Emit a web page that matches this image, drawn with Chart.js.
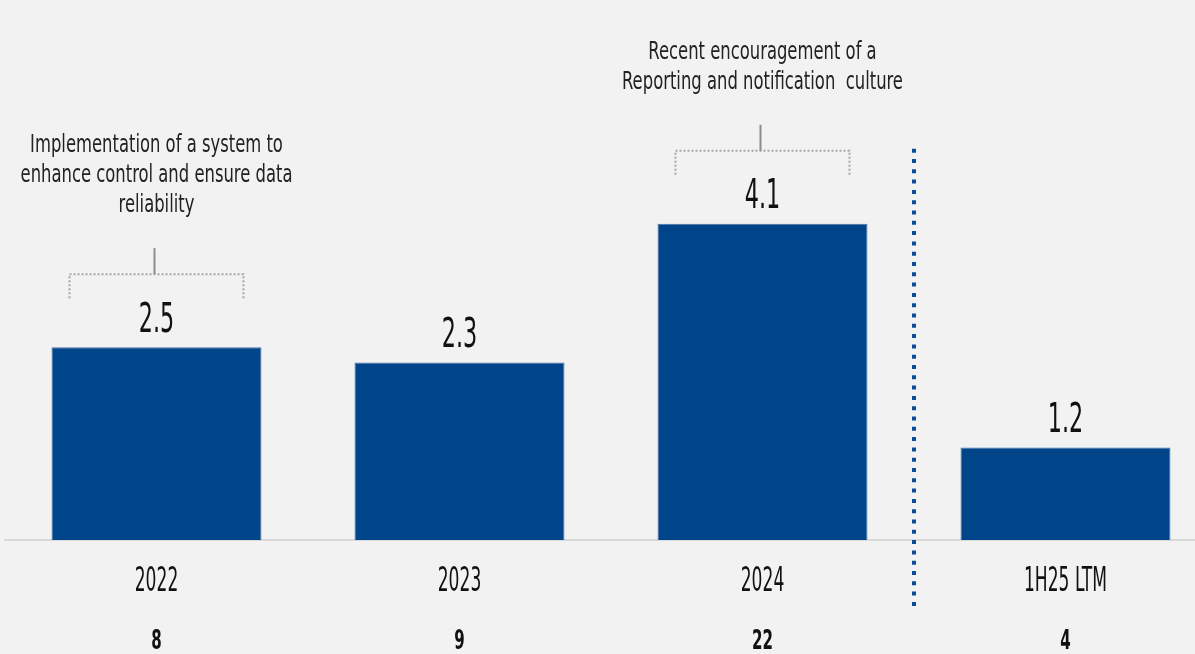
<!DOCTYPE html>
<html>
<head>
<meta charset="utf-8">
<script src="https://cdn.jsdelivr.net/npm/chart.js@4"></script>
<style>
  html, body { margin: 0; padding: 0; background: #F2F2F2; overflow: hidden; }
  canvas { display: block; }
</style>
</head>
<body>
<canvas id="reportsChart" width="1217" height="654"></canvas>
<script>
// Reports per period
const categories = ['2022', '2023', '2024', '1H25 LTM'];
const values = [2.5, 2.3, 4.1, 1.2];
const counts = ['8', '9', '22', '4'];
const notes = [
    ['Implementation of a system to', 'enhance control and ensure data', 'reliability'],
    null,
    ['Recent encouragement of a', 'Reporting and notification  culture'],
    null
];

const FONT = "'DejaVu Sans Condensed', 'DejaVu Sans', sans-serif";
const BLUE = '#00448A';

// tall narrow lettering: condensed face squeezed horizontally
function narrowText(ctx, text, x, y, size, sx, color, weight) {
    ctx.save();
    ctx.font = (weight || 'normal') + ' ' + size + 'px ' + FONT;
    ctx.fillStyle = color;
    ctx.textAlign = 'center';
    ctx.textBaseline = 'middle';
    ctx.translate(x, y);
    ctx.scale(sx, 1);
    ctx.fillText(text, 0, 0);
    ctx.restore();
}

const overlay = {
    id: 'overlay',
    afterDatasetsDraw(chart) {
        const ctx = chart.ctx;
        const meta = chart.getDatasetMeta(0);
        const xScale = chart.scales.x;
        const base = chart.chartArea.bottom;

        // period labels and report counts under the axis
        categories.forEach((cat, i) => {
            const x = xScale.getPixelForValue(i);
            narrowText(ctx, cat, x, base + 42, 34, 0.56, '#111111');
            narrowText(ctx, counts[i], x, base + 102, 27, 0.62, '#111111', 'bold');
        });

        meta.data.forEach((bar, i) => {
            narrowText(ctx, values[i].toFixed(1), bar.x, bar.y - 26, 40, 0.62, '#111111');

            if (!notes[i]) return;
            const half = bar.width / 2 - 18;
            const yLine = bar.y - 73;
            const yEnd = bar.y - 49;
            const yTick = bar.y - 99;

            // dotted bracket
            ctx.save();
            ctx.strokeStyle = '#A6A6A6';
            ctx.lineWidth = 2;
            ctx.setLineDash([2, 2]);
            ctx.beginPath();
            ctx.moveTo(bar.x - half, yEnd);
            ctx.lineTo(bar.x - half, yLine);
            ctx.lineTo(bar.x + half, yLine);
            ctx.lineTo(bar.x + half, yEnd);
            ctx.stroke();
            ctx.setLineDash([]);
            ctx.strokeStyle = '#8C8C8C';
            ctx.beginPath();
            ctx.moveTo(bar.x - 2, yTick);
            ctx.lineTo(bar.x - 2, yLine);
            ctx.stroke();
            ctx.restore();

            const lines = notes[i];
            lines.forEach((line, k) => {
                const y = yTick - 42 - (lines.length - 1 - k) * 30;
                narrowText(ctx, line, bar.x, y, 24, 0.76, '#222222');
            });
        });

        // blue dotted divider before the last period
        const xd = (xScale.getPixelForValue(2) + xScale.getPixelForValue(3)) / 2;
        ctx.save();
        ctx.strokeStyle = '#0A4C98';
        ctx.lineWidth = 4;
        ctx.setLineDash([4, 6.3]);
        ctx.beginPath();
        ctx.moveTo(xd, meta.data[2].y - 75);
        ctx.lineTo(xd, base + 68);
        ctx.stroke();
        ctx.restore();
    }
};

new Chart(document.getElementById('reportsChart'), {
    type: 'bar',
    data: {
        labels: categories,
        datasets: [{
            data: values,
            backgroundColor: BLUE,
            borderColor: '#4673A8',
            borderWidth: 1,
            categoryPercentage: 1,
            barPercentage: 0.693
        }]
    },
    options: {
        responsive: false,
        animation: false,
        layout: { padding: { left: 5, right: 0, top: 0, bottom: 114 } },
        plugins: {
            legend: { display: false },
            tooltip: { enabled: false }
        },
        scales: {
            y: { display: false, min: 0, max: 7 },
            x: {
                grid: { display: false, drawTicks: false },
                border: { color: '#D9D9D9', width: 2 },
                ticks: { display: false }
            }
        }
    },
    plugins: [overlay]
});
</script>
</body>
</html>
